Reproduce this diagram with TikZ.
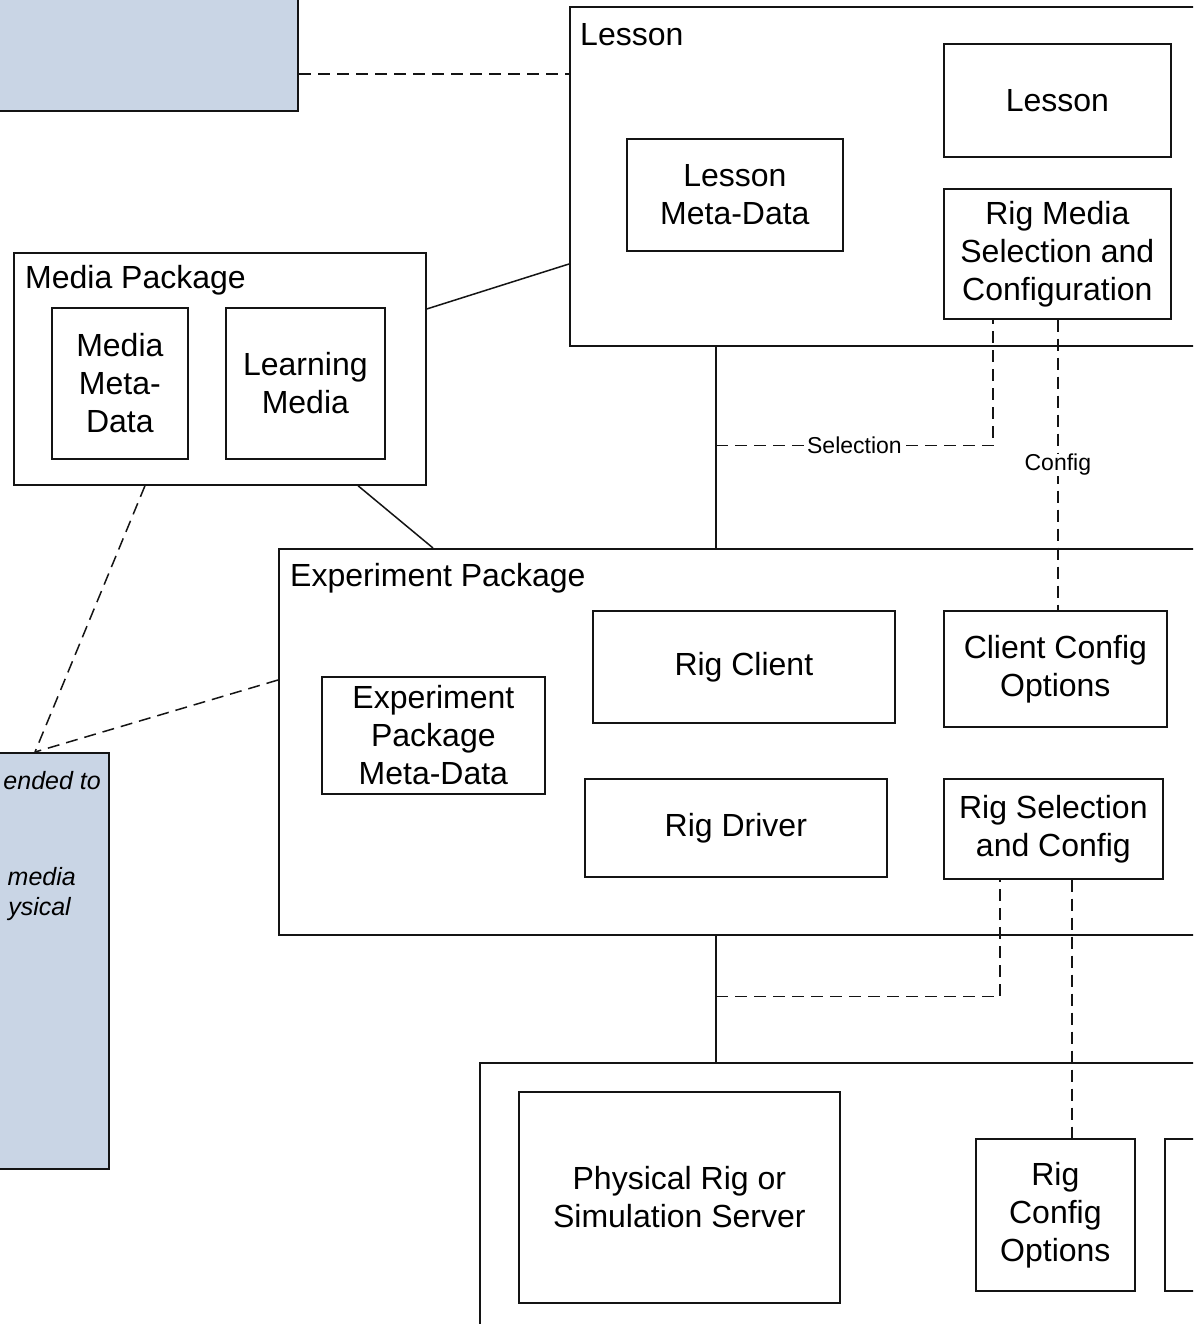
\documentclass[tikz,border=0pt]{standalone}
\usepackage{fontspec}
\setmainfont{Liberation Sans}
\usetikzlibrary{calc}
\definecolor{notefill}{HTML}{C9D5E5}
\definecolor{linecol}{HTML}{141414}
\begin{document}
\begin{tikzpicture}[x=1pt,y=-1pt,
  frame/.style={draw=linecol, line width=1.7pt, inner sep=0pt, anchor=north west},
  box/.style={draw=linecol, line width=1.7pt, inner sep=0pt, anchor=north west, align=center,
    font=\fontsize{32}{38}\selectfont},
  note/.style={draw=linecol, line width=1.7pt, fill=notefill, inner sep=0pt},
  title/.style={anchor=west, inner sep=0pt, font=\fontsize{32}{38}\selectfont},
  conn/.style={draw=linecol, line width=1.5pt},
  dconn/.style={draw=linecol, line width=1.5pt, dash pattern=on 12pt off 7pt},
  lbl/.style={fill=white, inner sep=0.5pt, font=\fontsize{23}{27}\selectfont},
  ntext/.style={anchor=east, inner sep=0pt, font=\fontsize{25}{32}\selectfont\itshape}
]
\useasboundingbox (0,0) rectangle (1193,1324);
\clip (0,0) rectangle (1193,1324);
\fill[white] (0,0) rectangle (1193,1324);

% outer frames
\node[frame, minimum width=700pt, minimum height=339pt] (lessonpkg) at (569,6) {};
\node[frame, minimum width=412pt, minimum height=232pt] (mediapkg) at (13,252) {};
\node[frame, minimum width=1000pt, minimum height=386pt] (exppkg) at (278,548) {};
\node[frame, minimum width=800pt, minimum height=400pt] (rigpkg) at (479,1062) {};

% notes
\node[note, anchor=south east, minimum width=400pt, minimum height=200pt] (note1) at (299,112) {};
\node[note, anchor=north east, minimum width=300pt, minimum height=416pt] (note2) at (110,752) {};
\node[ntext] (nt1) at (101,781) {ended to};
\node[ntext] (nt2) at (76,877) {media};
\node[ntext] (nt3) at (71,909) {ysical};

% titles
\node[title] (tlesson) at (580,35) {Lesson};
\node[title] (tmedia) at (25,280) {Media Package};
\node[title] (texp) at (290,578) {Experiment Package};

% inner boxes
\node[box, minimum width=227pt, minimum height=113pt] (lessonin) at (943,43) {Lesson};
\node[box, minimum width=216pt, minimum height=112pt] (lessonmeta) at (626,138) {Lesson\\Meta-Data};
\node[box, minimum width=227pt, minimum height=130pt] (rigmedia) at (943,188) {Rig Media\\Selection and\\Configuration};
\node[box, minimum width=136pt, minimum height=151pt] (mediameta) at (51,307) {Media\\Meta-\\Data};
\node[box, minimum width=159pt, minimum height=151pt] (learnmedia) at (225,307) {Learning\\Media};
\node[box, minimum width=302pt, minimum height=112pt] (rigclient) at (592,610) {Rig Client};
\node[box, minimum width=223pt, minimum height=116pt] (clientcfg) at (943,610) {Client Config\\Options};
\node[box, minimum width=223pt, minimum height=117pt] (exmeta) at (321,676) {Experiment\\Package\\Meta-Data};
\node[box, minimum width=302pt, minimum height=98pt] (rigdriver) at (584,778) {Rig Driver};
\node[box, minimum width=219pt, minimum height=100pt] (rigsel) at (943,778) {Rig Selection\\and Config};
\node[box, minimum width=321pt, minimum height=211pt] (physrig) at (518,1091) {Physical Rig or\\Simulation Server};
\node[box, minimum width=159pt, minimum height=152pt] (rigcfg) at (975,1138) {Rig\\Config\\Options};
\node[box, minimum width=100pt, minimum height=152pt] (extra) at (1164,1138) {};

% connectors
\draw[dconn] ($(note1.south east)+(0,-38)$) -- ($(lessonpkg.north west)+(0,68)$);
\draw[conn] ($(mediapkg.north east)+(0,57)$) -- ($(lessonpkg.north west)+(0,258)$);
\draw[conn] ($(mediapkg.south west)+(345,0)$) -- ($(exppkg.north west)+(155,0)$);
\coordinate (j1) at ($(lessonpkg.south west)+(147,0)$);
\draw[conn] (j1) -- (j1 |- exppkg.north);
\coordinate (s0) at ($(j1)+(0,99)$);
\coordinate (s1) at ($(rigmedia.south)+(-64.5,0)$);
\draw[dconn] (s0) -| node[lbl, pos=0.25] {Selection} (s1);
\coordinate (c0) at ($(rigmedia.south)+(0.5,0)$);
\draw[dconn] (c0) -- node[lbl] {Config} (c0 |- clientcfg.north);
\coordinate (n2) at ($(note2.north east)+(-75,0)$);
\draw[dconn] ($(mediapkg.south west)+(132,0)$) -- (n2);
\draw[dconn] ($(exppkg.north west)+(0,132)$) -- (n2);
\coordinate (j2) at ($(exppkg.south west)+(438,0)$);
\draw[conn] (j2) -- (j2 |- rigpkg.north);
\coordinate (r0) at ($(j2)+(0,61)$);
\coordinate (r1) at ($(rigsel.south west)+(57,0)$);
\draw[dconn] (r0) -| (r1);
\coordinate (r2) at ($(rigsel.south west)+(129,0)$);
\draw[dconn] (r2) -- (r2 |- rigcfg.north);
\end{tikzpicture}
\end{document}
